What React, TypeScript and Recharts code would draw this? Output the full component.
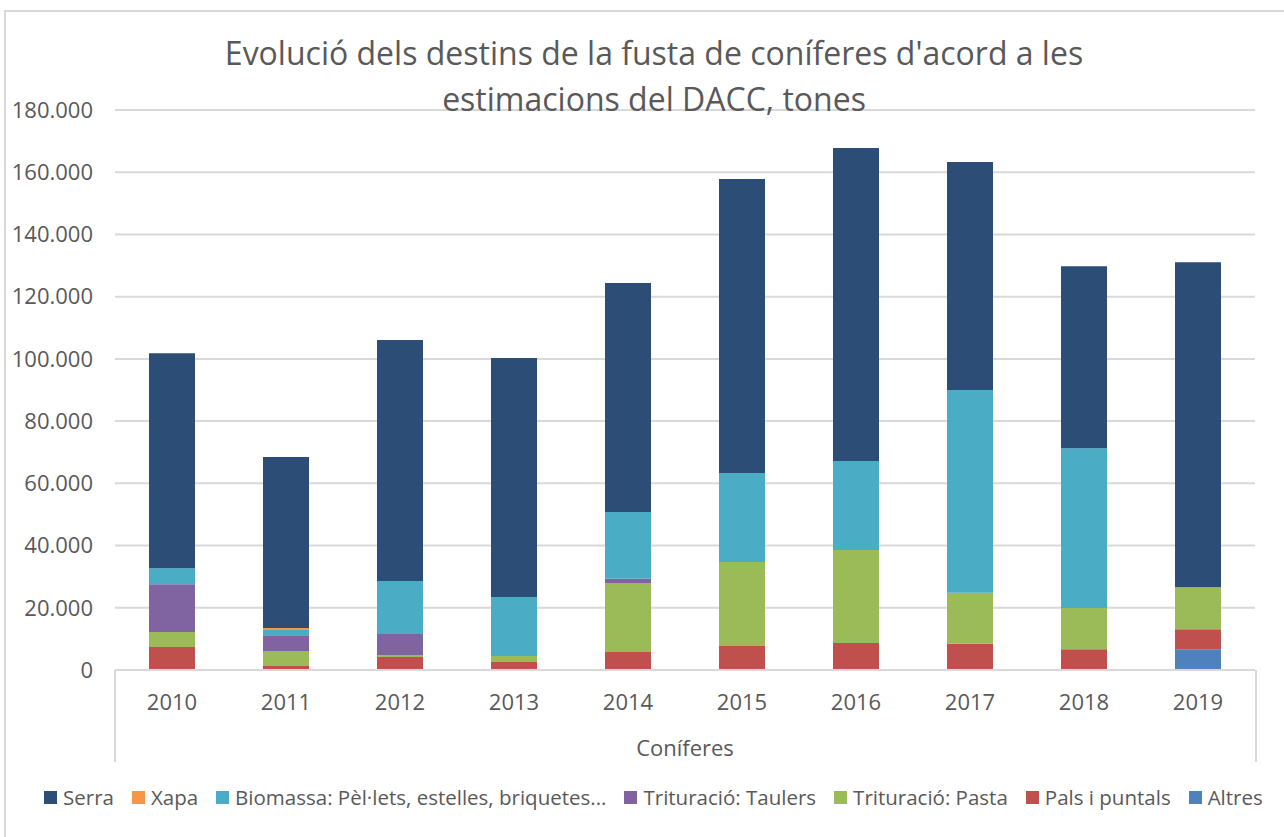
import { BarChart, Bar, XAxis, YAxis, CartesianGrid } from "recharts";

// Coníferes destinations, tonnes
const YEARS = ["2010", "2011", "2012", "2013", "2014", "2015", "2016", "2017", "2018", "2019"];
const SERRA = [69100, 55000, 77500, 76800, 73600, 94500, 100600, 73300, 58500, 104500];
const XAPA = [0, 400, 0, 0, 0, 0, 0, 0, 0, 0];
const BIOMASSA = [5100, 1900, 17000, 19000, 21500, 28600, 28600, 65200, 51400, 0];
const TAULERS = [15400, 5100, 6750, 0, 1300, 0, 0, 0, 0, 0];
const PASTA = [4800, 4800, 650, 1900, 22200, 27000, 29900, 16400, 13200, 13500];
const PALS = [7400, 1300, 4200, 2600, 5800, 7700, 8700, 8400, 6700, 6400];
const ALTRES = [0, 0, 0, 0, 0, 0, 0, 0, 0, 6700];
const Y_TICKS = [0, 20000, 40000, 60000, 80000, 100000, 120000, 140000, 160000, 180000];

// legend order (top of legend = Serra), stacked bottom-up in reverse
const SERIES = [
  { key: "serra", name: "Serra", values: SERRA, color: "#2C4D75" },
  { key: "xapa", name: "Xapa", values: XAPA, color: "#F79646" },
  { key: "biomassa", name: "Biomassa: Pèl·lets, estelles, briquetes...", values: BIOMASSA, color: "#4BACC6" },
  { key: "taulers", name: "Trituració: Taulers", values: TAULERS, color: "#8064A2" },
  { key: "pasta", name: "Trituració: Pasta", values: PASTA, color: "#9BBB59" },
  { key: "pals", name: "Pals i puntals", values: PALS, color: "#C0504D" },
  { key: "altres", name: "Altres", values: ALTRES, color: "#4F81BD" },
];

const FONT = "'Open Sans', sans-serif";
const TEXT = "#595959";
const GRID = "#d9d9d9";

const fmt = (v: number) => String(v).replace(/\B(?=(\d{3})+(?!\d))/g, ".");

const data = YEARS.map((y, i) => {
  const row: Record<string, number | string> = { year: y };
  SERIES.forEach((s) => {
    row[s.key] = s.values[i];
  });
  return row;
});

export default function App() {
  return (
    <div
      style={{
        position: "absolute",
        left: 0,
        top: 0,
        width: 1284,
        height: 837,
        overflow: "hidden",
        background: "#fff",
        fontFamily: FONT,
      }}
    >
      {/* chart frame */}
      <div
        style={{
          position: "absolute",
          left: 4,
          top: 10,
          width: 1400,
          height: 900,
          borderLeft: `2px solid ${GRID}`,
          borderTop: `2px solid ${GRID}`,
        }}
      />

      <BarChart
        width={1284}
        height={837}
        data={data}
        margin={{ top: 110, right: 29, bottom: 67, left: 0 }}
        style={{ position: "absolute", left: 0, top: 0 }}
      >
        <CartesianGrid vertical={false} stroke={GRID} strokeWidth={2} />
        <XAxis
          dataKey="year"
          height={100}
          tickLine={false}
          axisLine={{ stroke: GRID, strokeWidth: 2 }}
          tickMargin={18}
          tick={{ fill: TEXT, fontSize: 22, fontFamily: FONT }}
          label={{ value: "Coníferes", position: "insideBottom", offset: 14, fill: TEXT, fontSize: 22, fontFamily: FONT }}
        />
        <YAxis
          width={115}
          domain={[0, 180000]}
          ticks={Y_TICKS}
          tickFormatter={fmt}
          tickLine={false}
          axisLine={false}
          tickMargin={16}
          tick={{ fill: TEXT, fontSize: 22, fontFamily: FONT }}
        />
        {[...SERIES].reverse().map((s) => (
          <Bar key={s.key} dataKey={s.key} name={s.name} stackId="a" fill={s.color} barSize={46} isAnimationActive={false} />
        ))}
      </BarChart>

      <div
        style={{
          position: "absolute",
          left: 154,
          top: 30,
          width: 1000,
          textAlign: "center",
          fontSize: 32,
          lineHeight: "46px",
          color: TEXT,
          zIndex: 2,
        }}
      >
        Evolució dels destins de la fusta de coníferes d'acord a les
        <br />
        estimacions del DACC, tones
      </div>

      {/* multi-level category box */}
      <div
        style={{
          position: "absolute",
          left: 114,
          top: 670,
          width: 1139,
          height: 92,
          borderLeft: `2px solid ${GRID}`,
          borderRight: `2px solid ${GRID}`,
        }}
      />

      <div
        style={{
          position: "absolute",
          left: 44,
          top: 782,
          display: "flex",
          alignItems: "center",
          fontSize: 20.5,
          lineHeight: "30px",
          color: TEXT,
          whiteSpace: "nowrap",
        }}
      >
        {SERIES.map((s) => (
          <div key={s.key} style={{ display: "flex", alignItems: "center", marginRight: 18 }}>
            <span style={{ width: 13, height: 13, background: s.color, marginRight: 6, display: "inline-block" }} />
            <span>{s.name}</span>
          </div>
        ))}
      </div>
    </div>
  );
}
